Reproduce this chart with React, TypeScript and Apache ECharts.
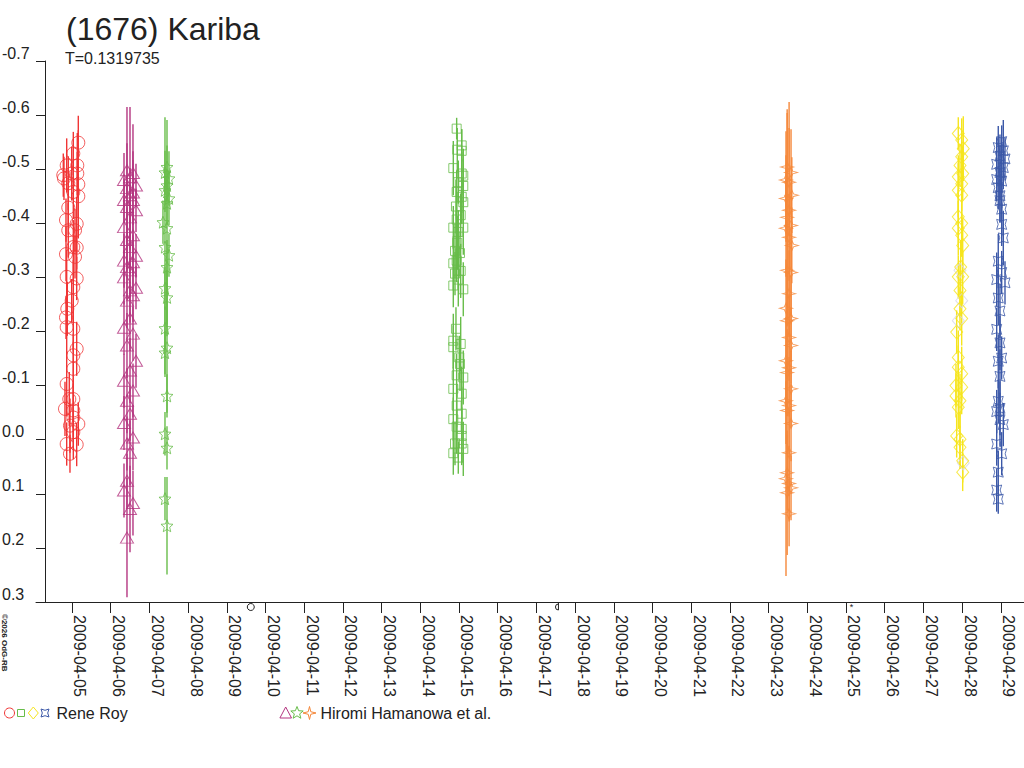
import React, { useEffect, useRef } from 'react';
import * as echarts from 'echarts';

// Tick labels (x: one per day, value 0 = 2009-04-05)
const dateLabels = [
  '2009-04-05', '2009-04-06', '2009-04-07', '2009-04-08', '2009-04-09', '2009-04-10',
  '2009-04-11', '2009-04-12', '2009-04-13', '2009-04-14', '2009-04-15', '2009-04-16',
  '2009-04-17', '2009-04-18', '2009-04-19', '2009-04-20', '2009-04-21', '2009-04-22',
  '2009-04-23', '2009-04-24', '2009-04-25', '2009-04-26', '2009-04-27', '2009-04-28',
  '2009-04-29',
];
const dateTickValues = dateLabels.map((_, i) => i);

const titleText = '(1676) Kariba';
const subtitleText = 'T=0.1319735';
const legendRoy = 'Rene Roy';
const legendHiromi = 'Hiromi Hamanowa et al.';
const copyrightText = '©2026 OdG-RB';

// [day since 2009-04-05 0h, relative magnitude, error]
const royCircles = [
  [0.163, -0.549, 0.05], [0.034, -0.529, 0.04], [-0.137, -0.507, 0.05], [0.137, -0.507, 0.06],
  [-0.225, -0.489, 0.04], [-0.008, -0.492, 0.05], [0.137, -0.492, 0.04], [-0.207, -0.483, 0.04],
  [-0.096, -0.474, 0.05], [0.163, -0.472, 0.1], [0.034, -0.458, 0.05], [0.163, -0.45, 0.04],
  [-0.096, -0.429, 0.05], [-0.155, -0.406, 0.04], [0.121, -0.399, 0.05], [-0.096, -0.387, 0.05],
  [0.078, -0.387, 0.04], [0.034, -0.356, 0.05], [0.121, -0.355, 0.04], [-0.155, -0.343, 0.05],
  [0.078, -0.338, 0.04], [-0.137, -0.301, 0.05], [0.121, -0.298, 0.04], [0.034, -0.282, 0.05],
  [-0.008, -0.257, 0.04], [-0.121, -0.242, 0.05], [-0.155, -0.226, 0.04], [-0.137, -0.208, 0.05],
  [0.034, -0.205, 0.04], [0.121, -0.168, 0.05], [0.034, -0.156, 0.04], [0.034, -0.131, 0.05],
  [-0.137, -0.103, 0.06], [-0.07, -0.075, 0.05], [0.034, -0.075, 0.04], [-0.181, -0.057, 0.05],
  [0.034, -0.054, 0.05], [0.034, -0.041, 0.04], [-0.052, -0.026, 0.05], [0.163, -0.029, 0.04],
  [0.034, -0.014, 0.05], [-0.137, 0.008, 0.04], [0.121, 0.009, 0.04], [-0.052, 0.026, 0.035],
];

const hiromiTriangles = [
  [1.421, -0.498, 0.05], [1.576, -0.493, 0.04], [1.499, -0.485, 0.13], [1.344, -0.48, 0.05],
  [1.654, -0.47, 0.04], [1.421, -0.465, 0.15], [1.576, -0.457, 0.06], [1.499, -0.452, 0.05],
  [1.344, -0.443, 0.04], [1.576, -0.443, 0.14], [1.421, -0.43, 0.05], [1.654, -0.424, 0.04],
  [1.499, -0.411, 0.06], [1.344, -0.393, 0.05], [1.576, -0.378, 0.05], [1.421, -0.369, 0.06],
  [1.499, -0.356, 0.05], [1.654, -0.34, 0.04], [1.344, -0.331, 0.05], [1.576, -0.328, 0.05],
  [1.421, -0.319, 0.06], [1.499, -0.313, 0.05], [1.344, -0.3, 0.05], [1.654, -0.281, 0.04],
  [1.499, -0.276, 0.06], [1.576, -0.267, 0.05], [1.421, -0.257, 0.05], [1.499, -0.224, 0.06],
  [1.344, -0.207, 0.05], [1.576, -0.196, 0.05], [1.421, -0.174, 0.06], [1.654, -0.146, 0.05],
  [1.499, -0.128, 0.06], [1.344, -0.109, 0.05], [1.576, -0.091, 0.05], [1.421, -0.072, 0.06],
  [1.499, -0.048, 0.05], [1.344, -0.031, 0.05], [1.576, -0.004, 0.06], [1.421, 0.007, 0.05],
  [1.499, 0.024, 0.06], [1.421, 0.076, 0.05], [1.344, 0.094, 0.05], [1.576, 0.117, 0.06],
  [1.499, 0.128, 0.08], [1.421, 0.181, 0.11],
];

const hiromiStars = [
  [2.455, -0.504, 0.04], [2.403, -0.494, 0.04], [2.506, -0.483, 0.05], [2.455, -0.47, 0.03],
  [2.403, -0.461, 0.04], [2.506, -0.446, 0.05], [2.455, -0.437, 0.04], [2.351, -0.402, 0.04],
  [2.455, -0.391, 0.2], [2.403, -0.356, 0.24], [2.506, -0.341, 0.04], [2.455, -0.319, 0.05],
  [2.403, -0.28, 0.04], [2.455, -0.263, 0.05], [2.403, -0.206, 0.04], [2.455, -0.17, 0.12],
  [2.403, -0.161, 0.04], [2.455, -0.081, 0.04], [2.403, -0.011, 0.04], [2.455, 0.015, 0.04],
  [2.403, 0.109, 0.04], [2.455, 0.159, 0.09],
];

const roySquares = [
  [9.94, -0.575, 0.02], [9.956, -0.536, 0.04], [10.07, -0.544, 0.03], [10.07, -0.534, 0.04],
  [9.853, -0.502, 0.05], [10.07, -0.492, 0.04], [10.111, -0.488, 0.05], [9.982, -0.476, 0.04],
  [10.111, -0.469, 0.05], [9.94, -0.458, 0.04], [10.07, -0.449, 0.05], [10.111, -0.439, 0.04],
  [9.922, -0.431, 0.05], [10.044, -0.415, 0.04], [9.94, -0.407, 0.05], [9.853, -0.392, 0.04],
  [10.111, -0.392, 0.05], [9.982, -0.384, 0.04], [9.956, -0.364, 0.05], [10.026, -0.345, 0.04],
  [9.897, -0.349, 0.05], [9.853, -0.326, 0.05], [9.94, -0.331, 0.04], [10.044, -0.312, 0.05],
  [9.897, -0.307, 0.04], [9.982, -0.296, 0.05], [9.853, -0.285, 0.04], [10.111, -0.278, 0.05],
  [9.922, -0.205, 0.04], [9.853, -0.183, 0.05], [9.853, -0.171, 0.04], [10.044, -0.177, 0.05],
  [10.008, -0.152, 0.04], [10.026, -0.14, 0.05], [9.94, -0.119, 0.04], [10.111, -0.115, 0.05],
  [9.853, -0.094, 0.04], [10.07, -0.085, 0.05], [9.94, -0.063, 0.04], [10.07, -0.048, 0.05],
  [9.853, -0.038, 0.04], [9.94, -0.024, 0.05], [10.07, -0.02, 0.04], [10.07, -0.007, 0.05],
  [9.897, 0.007, 0.04], [10.07, 0.007, 0.04], [10.111, 0.017, 0.05], [9.853, 0.025, 0.04],
  [9.982, 0.033, 0.03],
];

const hiromiSparkles = [
  [18.48, -0.504, 0.1], [18.58, -0.494, 0.08], [18.45, -0.48, 0.09], [18.53, -0.476, 0.1],
  [18.6, -0.452, 0.07], [18.45, -0.446, 0.08], [18.53, -0.424, 0.2], [18.48, -0.411, 0.2],
  [18.58, -0.396, 0.08], [18.45, -0.391, 0.09], [18.53, -0.374, 0.08], [18.6, -0.359, 0.07],
  [18.48, -0.313, 0.09], [18.58, -0.309, 0.08], [18.53, -0.27, 0.08], [18.45, -0.243, 0.09],
  [18.58, -0.224, 0.08], [18.48, -0.22, 0.09], [18.53, -0.189, 0.08], [18.58, -0.174, 0.07],
  [18.45, -0.146, 0.08], [18.53, -0.133, 0.09], [18.48, -0.124, 0.08], [18.58, -0.094, 0.07],
  [18.45, -0.072, 0.08], [18.53, -0.063, 0.09], [18.48, -0.054, 0.08], [18.58, -0.03, 0.07],
  [18.53, 0.024, 0.08], [18.48, 0.061, 0.07], [18.45, 0.072, 0.18], [18.53, 0.081, 0.07],
  [18.58, 0.089, 0.06], [18.48, 0.098, 0.115], [18.53, 0.137, 0.06],
];

const royDiamonds = [
  [22.902, -0.566, 0.03], [22.99, -0.554, 0.04], [23.031, -0.538, 0.06], [22.99, -0.523, 0.05],
  [22.946, -0.507, 0.04], [23.016, -0.492, 0.05], [22.902, -0.486, 0.04], [22.99, -0.473, 0.05],
  [22.902, -0.461, 0.05], [22.99, -0.452, 0.04], [22.902, -0.412, 0.05], [22.99, -0.4, 0.04],
  [22.902, -0.391, 0.05], [22.99, -0.378, 0.04], [23.016, -0.359, 0.05], [22.964, -0.319, 0.05],
  [22.902, -0.301, 0.04], [23.016, -0.301, 0.05], [22.946, -0.276, 0.05], [22.946, -0.242, 0.04],
  [22.99, -0.224, 0.05], [22.86, -0.199, 0.04], [22.902, -0.152, 0.05], [22.902, -0.134, 0.04],
  [22.99, -0.122, 0.05], [22.842, -0.1, 0.04], [22.99, -0.097, 0.05], [22.842, -0.081, 0.04],
  [22.946, -0.072, 0.05], [22.902, -0.06, 0.04], [22.86, -0.007, 0.04], [22.946, -0.001, 0.05],
  [22.946, 0.014, 0.04], [23.016, 0.039, 0.04], [23.016, 0.06, 0.035],
];

const royPaleDiamonds = [
  [22.946, -0.313, 0], [22.99, -0.257, 0], [22.902, -0.22, 0], [23.031, 0.043, 0],
];

const royCrosses = [
  [24.023, -0.551, 0.03], [23.935, -0.54, 0.04], [24.065, -0.534, 0.057], [23.979, -0.524, 0.04],
  [24.109, -0.519, 0.04], [23.894, -0.509, 0.05], [24.065, -0.503, 0.04], [23.979, -0.494, 0.05],
  [23.894, -0.481, 0.04], [24.023, -0.478, 0.05], [23.935, -0.466, 0.04], [23.979, -0.451, 0.05],
  [23.979, -0.442, 0.04], [24.023, -0.426, 0.05], [24.023, -0.398, 0.04], [24.065, -0.373, 0.05],
  [23.935, -0.33, 0.05], [24.023, -0.309, 0.04], [23.894, -0.296, 0.05], [24.109, -0.29, 0.04],
  [23.935, -0.262, 0.05], [23.979, -0.238, 0.05], [23.894, -0.204, 0.04], [23.979, -0.179, 0.05],
  [24.023, -0.151, 0.04], [23.935, -0.145, 0.05], [23.979, -0.117, 0.05], [23.935, -0.071, 0.04],
  [23.979, -0.058, 0.05], [23.894, -0.052, 0.04], [23.979, -0.037, 0.05], [24.065, -0.028, 0.04],
  [23.894, 0.008, 0.04], [24.023, 0.026, 0.04], [23.935, 0.06, 0.04], [23.894, 0.093, 0.04],
  [23.935, 0.11, 0.027],
];

// Moon phases: [day, phase] 0 = full, 1 = last quarter, 2 = new
const moonPhases = [
  [4.62, 0], [12.57, 1], [20.14, 2],
];

const COL = {
  red: '#f03535',
  magenta: '#b43580',
  green: '#68bd4a',
  orange: '#f5883a',
  yellow: '#f6e51e',
  pale: '#d6d6ea',
  blue: '#3b58a8',
  text: '#222222',
};

const STAR5 = 'path://M0,-1L0.265,-0.364L0.951,-0.309L0.428,0.139L0.588,0.809L0,0.45L-0.588,0.809L-0.428,0.139L-0.951,-0.309L-0.265,-0.364Z';
const STAR4 = 'path://M0,-1L0.26,-0.26L1,0L0.26,0.26L0,1L-0.26,0.26L-1,0L-0.26,-0.26Z';
const CROSS = 'path://M-1,-1Q0,-0.4,1,-1Q0.4,0,1,1Q0,0.4,-1,1Q-0.4,0,-1,-1Z';

const FONT = '"Liberation Sans", Arial, sans-serif';

function errorSeries(data: number[][], color: string) {
  return {
    type: 'custom',
    silent: true,
    z: 1,
    clip: true,
    data,
    encode: { x: 0, y: 1 },
    renderItem: (params: any, api: any) => {
      const x = api.value(0);
      const y = api.value(1);
      const e = api.value(2);
      const p1 = api.coord([x, y - e]);
      const p2 = api.coord([x, y + e]);
      return {
        type: 'line',
        shape: { x1: p1[0], y1: p1[1], x2: p2[0], y2: p2[1] },
        style: { stroke: color, lineWidth: 1.4 },
      };
    },
  };
}

function markerSeries(data: number[][], color: string, symbol: string, size: any) {
  return {
    type: 'scatter',
    silent: true,
    z: 2,
    data: data.map((d) => [d[0], d[1]]),
    symbol,
    symbolSize: size,
    itemStyle: { color: 'rgba(0,0,0,0)', borderColor: color, borderWidth: 1 },
  };
}

function starPoints(cx: number, cy: number, R: number, r: number, n: number) {
  const pts: number[][] = [];
  for (let i = 0; i < n * 2; i++) {
    const a = -Math.PI / 2 + (i * Math.PI) / n;
    const rad = i % 2 === 0 ? R : r;
    pts.push([cx + rad * Math.cos(a), cy + rad * Math.sin(a)]);
  }
  return pts;
}

export default function App() {
  const ref = useRef<HTMLDivElement>(null);

  useEffect(() => {
    if (!ref.current) return;
    const chart = echarts.init(ref.current, undefined, { renderer: 'svg' });

    const legendY = 713;
    const option: any = {
      animation: false,
      backgroundColor: '#ffffff',
      textStyle: { fontFamily: FONT },
      grid: { left: 36, right: 0, top: 61, bottom: 166, outerBoundsMode: 'none' },
      xAxis: {
        type: 'value',
        min: -0.93,
        max: 24.6,
        splitLine: { show: false },
        axisLine: { onZero: false, lineStyle: { color: COL.text, width: 1 } },
        axisTick: { show: true, length: 11, customValues: dateTickValues, lineStyle: { color: COL.text } },
        axisLabel: {
          customValues: dateTickValues,
          rotate: -90,
          margin: 13,
          verticalAlign: 'bottom',
          fontSize: 16,
          color: COL.text,
          fontFamily: FONT,
          formatter: (v: number) => dateLabels[Math.round(v)] ?? '',
        },
      },
      yAxis: {
        type: 'value',
        inverse: true,
        min: -0.7,
        max: 0.3,
        interval: 0.1,
        offset: -9,
        splitLine: { show: false },
        axisLine: { show: true, onZero: false, lineStyle: { color: COL.text, width: 1 } },
        axisTick: { show: true, length: 9, lineStyle: { color: COL.text } },
        axisLabel: {
          margin: 43,
          align: 'left',
          verticalAlign: 'bottom',
          fontSize: 16,
          color: COL.text,
          fontFamily: FONT,
          formatter: (v: number) => (Math.abs(v) < 1e-9 ? '0.0' : v.toFixed(1)),
        },
      },
      series: [
        errorSeries(royCircles, COL.red),
        errorSeries(hiromiTriangles, COL.magenta),
        errorSeries(hiromiStars, COL.green),
        errorSeries(roySquares, COL.green),
        errorSeries(hiromiSparkles, COL.orange),
        errorSeries(royDiamonds, COL.yellow),
        errorSeries(royCrosses, COL.blue),
        markerSeries(royCircles, COL.red, 'circle', 13),
        markerSeries(hiromiTriangles, COL.magenta, 'triangle', [13, 11]),
        markerSeries(hiromiStars, COL.green, STAR5, 12),
        markerSeries(roySquares, COL.green, 'rect', 9),
        markerSeries(hiromiSparkles, COL.orange, STAR4, [13, 10]),
        markerSeries(royPaleDiamonds, COL.pale, 'diamond', [12, 14]),
        markerSeries(royDiamonds, COL.yellow, 'diamond', [12, 14]),
        markerSeries(royCrosses, COL.blue, CROSS, 10),
        {
          type: 'custom',
          silent: true,
          clip: false,
          data: moonPhases.map((m) => [m[0], 0.3, m[1]]),
          encode: { x: 0, y: 1 },
          renderItem: (params: any, api: any) => {
            const p = api.coord([api.value(0), api.value(1)]);
            const phase = api.value(2);
            const cx = p[0];
            const cy = p[1] + 5;
            if (phase === 0) {
              return { type: 'circle', shape: { cx, cy, r: 3.5 }, style: { fill: 'none', stroke: COL.text, lineWidth: 1 } };
            }
            if (phase === 1) {
              return {
                type: 'group',
                children: [
                  { type: 'arc', shape: { cx, cy, r: 3, startAngle: Math.PI / 2, endAngle: (3 * Math.PI) / 2, clockwise: true }, style: { fill: 'none', stroke: COL.text, lineWidth: 1 } },
                  { type: 'line', shape: { x1: cx, y1: cy - 4, x2: cx, y2: cy + 3 }, style: { stroke: COL.text, lineWidth: 1 } },
                ],
              };
            }
            return { type: 'text', style: { text: '*', x: cx, y: cy, align: 'center', verticalAlign: 'middle', fontSize: 9, fill: COL.text, fontFamily: FONT } };
          },
        },
      ],
      graphic: [
        { type: 'text', left: 66, top: 13, style: { text: titleText, x: 0, y: 0, fontSize: 32, fill: COL.text, fontFamily: FONT } },
        { type: 'text', style: { text: subtitleText, x: 65, y: 58, verticalAlign: 'middle', fontSize: 16, fill: COL.text, fontFamily: FONT } },
        { type: 'text', x: 4, y: 614, rotation: -Math.PI / 2, style: { text: copyrightText, x: 0, y: 0, align: 'left', verticalAlign: 'middle', fontSize: 8, fontWeight: 'bold', fill: COL.text, fontFamily: FONT } },
        // legend
        { type: 'circle', shape: { cx: 9.5, cy: legendY, r: 5 }, style: { fill: 'none', stroke: COL.red, lineWidth: 1 } },
        { type: 'rect', shape: { x: 17.5, y: legendY - 3.5, width: 7, height: 7 }, style: { fill: 'none', stroke: COL.green, lineWidth: 1 } },
        { type: 'polygon', shape: { points: [[33.3, legendY - 6], [38.3, legendY], [33.3, legendY + 6], [28.3, legendY]] }, style: { fill: 'none', stroke: COL.yellow, lineWidth: 1 } },
        { type: 'polygon', shape: { points: [[41, legendY - 4], [45, legendY - 2.7], [49, legendY - 4], [47.7, legendY], [49, legendY + 4], [45, legendY + 2.7], [41, legendY + 4], [42.3, legendY]] }, style: { fill: 'none', stroke: COL.blue, lineWidth: 1 } },
        { type: 'text', style: { text: legendRoy, x: 56.5, y: legendY, verticalAlign: 'middle', fontSize: 16, fill: COL.text, fontFamily: FONT } },
        { type: 'polygon', shape: { points: [[285.7, legendY - 6], [291.5, legendY + 5], [279.9, legendY + 5]] }, style: { fill: 'none', stroke: COL.magenta, lineWidth: 1 } },
        { type: 'polygon', shape: { points: starPoints(297, legendY, 6.5, 2.8, 5) }, style: { fill: 'none', stroke: COL.green, lineWidth: 1 } },
        { type: 'polygon', shape: { points: starPoints(309.5, legendY, 6.5, 1.8, 4) }, style: { fill: 'none', stroke: COL.orange, lineWidth: 1 } },
        { type: 'text', style: { text: legendHiromi, x: 320.5, y: legendY, verticalAlign: 'middle', fontSize: 16, fill: COL.text, fontFamily: FONT } },
      ],
    };

    chart.setOption(option);
    return () => chart.dispose();
  }, []);

  return (
    <div
      ref={ref}
      style={{ position: 'absolute', left: 0, top: 0, width: 1024, height: 768, background: '#fff' }}
    />
  );
}
